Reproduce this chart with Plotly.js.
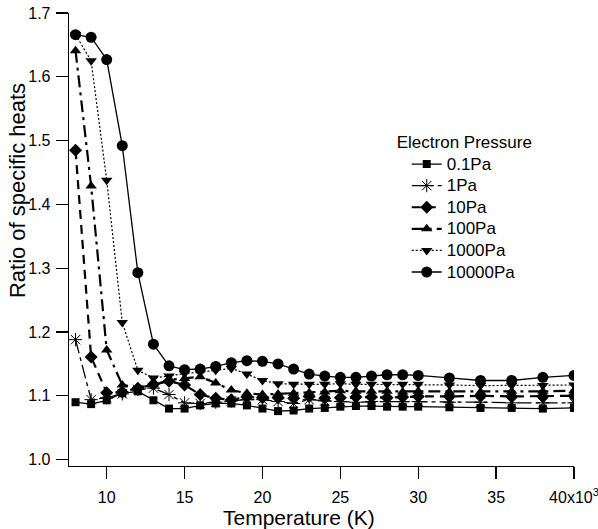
<!DOCTYPE html>
<html>
<head>
<meta charset="utf-8">
<script src="https://cdn.plot.ly/plotly-3.0.1.min.js"></script>
<style>html,body{margin:0;padding:0;background:#fff;}</style>
</head>
<body>
<div id="chart" style="width:598px;height:529px;"></div>
<script>
// Temperature in units of 10^3 K
const temperature = [8,9,10,11,12,13,14,15,16,17,18,19,20,21,22,23,24,25,26,27,28,29,30,32,34,36,38,40];

const p0_1Pa   = [1.090,1.087,1.093,1.104,1.107,1.093,1.080,1.080,1.085,1.088,1.088,1.085,1.080,1.076,1.077,1.080,1.081,1.083,1.084,1.084,1.083,1.083,1.083,1.082,1.081,1.081,1.080,1.081];
const p1Pa     = [1.188,1.094,1.097,1.103,1.110,1.112,1.102,1.089,1.088,1.090,1.092,1.094,1.094,1.091,1.088,1.094,1.092,1.091,1.090,1.091,1.091,1.091,1.091,1.090,1.090,1.089,1.089,1.089];
const p10Pa    = [1.485,1.161,1.105,1.106,1.112,1.118,1.123,1.117,1.102,1.096,1.094,1.098,1.097,1.097,1.096,1.099,1.096,1.097,1.098,1.098,1.097,1.098,1.099,1.099,1.100,1.099,1.099,1.100];
const p100Pa   = [1.641,1.429,1.172,1.117,1.113,1.117,1.125,1.127,1.130,1.120,1.109,1.104,1.102,1.103,1.104,1.105,1.106,1.108,1.107,1.107,1.107,1.106,1.107,1.106,1.106,1.107,1.107,1.108];
const p1000Pa  = [1.666,1.625,1.438,1.215,1.140,1.128,1.131,1.135,1.137,1.140,1.143,1.134,1.124,1.119,1.118,1.118,1.118,1.119,1.118,1.118,1.118,1.118,1.118,1.117,1.116,1.116,1.116,1.117];
const p10000Pa = [1.666,1.662,1.627,1.492,1.293,1.181,1.147,1.141,1.142,1.146,1.152,1.155,1.154,1.150,1.142,1.134,1.131,1.129,1.129,1.131,1.133,1.133,1.132,1.128,1.124,1.124,1.129,1.132];

const seriesNames = ['0.1Pa','1Pa','10Pa','100Pa','1000Pa','10000Pa'];
const xTickVals = [10,15,20,25,30,35,40];
const xTickText = ['10','15','20','25','30','35','40x10<sup>3</sup>'];
const yTickVals = [1.0,1.1,1.2,1.3,1.4,1.5,1.6,1.7];
const xTitle = 'Temperature (K)';
const yTitle = 'Ratio of specific heats';
const legendTitle = 'Electron Pressure';

const seriesData = [p0_1Pa, p1Pa, p10Pa, p100Pa, p1000Pa, p10000Pa];
const styles = [
  {dash:'solid', width:1.3, symbol:'square', size:8},
  {dash:'14px,4px,4px,4px', width:1.3, symbol:'asterisk-open', size:11},
  {dash:'9px,6px', width:2.2, symbol:'diamond', size:10},
  {dash:'12px,5px,3px,5px', width:2.2, symbol:'triangle-up', size:10},
  {dash:'2px,2px', width:1.2, symbol:'triangle-down', size:10},
  {dash:'solid', width:1.3, symbol:'circle', size:11}
];

const traces = seriesData.map((ys, i) => ({
  x: temperature,
  y: ys,
  name: '<span style="font-size:17px">' + seriesNames[i] + '</span>',
  type: 'scatter',
  mode: 'lines+markers',
  line: {color:'#000', width: styles[i].width, dash: styles[i].dash},
  marker: {color:'#000', symbol: styles[i].symbol, size: styles[i].size,
           line: {color:'#000', width: styles[i].symbol === 'asterisk-open' ? 1 : 0}}
}));

const layout = {
  width: 598, height: 529,
  margin: {l: 69, r: 24, t: 13, b: 63},
  paper_bgcolor: '#fff', plot_bgcolor: '#fff',
  font: {family: 'Liberation Sans, Arial, sans-serif', color: '#000', size: 16},
  showlegend: true,
  xaxis: {
    range: [7.58, 40], tickvals: xTickVals, ticktext: xTickText,
    ticks: 'outside', ticklen: 12, tickwidth: 1.3, tickcolor: '#000',
    ticklabelstandoff: 4, ticklabeloverflow: 'allow',
    showline: true, linecolor: '#000', linewidth: 1.3, mirror: false,
    showgrid: false, zeroline: false,
    tickfont: {size: 16}
  },
  yaxis: {
    range: [0.99, 1.70], tickvals: yTickVals, tickformat: '.1f',
    ticks: 'outside', ticklen: 12, tickwidth: 1.3, tickcolor: '#000',
    ticklabelstandoff: 2,
    showline: true, linecolor: '#000', linewidth: 1.3,
    showgrid: false, zeroline: false,
    tickfont: {size: 16}
  },
  annotations: [
    {text: xTitle, xref: 'paper', yref: 'paper', x: 0.4554, y: -0.1136,
     xanchor: 'center', yanchor: 'middle', showarrow: false, font: {size: 21}},
    {text: yTitle, xref: 'paper', yref: 'paper', x: -0.103, y: 0.609,
     xanchor: 'center', yanchor: 'middle', showarrow: false, textangle: -90, font: {size: 22}}
  ],
  legend: {
    x: 0.645, y: 0.7387, xanchor: 'left', yanchor: 'top',
    bgcolor: 'rgba(0,0,0,0)', borderwidth: 0,
    font: {size: 14.3},
    indentation: 12,
    title: {text: '<span style="font-size:17px">' + legendTitle + '</span>', font: {size: 13}},
    tracegroupgap: 0
  }
};

Plotly.newPlot('chart', traces, layout, {staticPlot: true, displayModeBar: false});
</script>
</body>
</html>
